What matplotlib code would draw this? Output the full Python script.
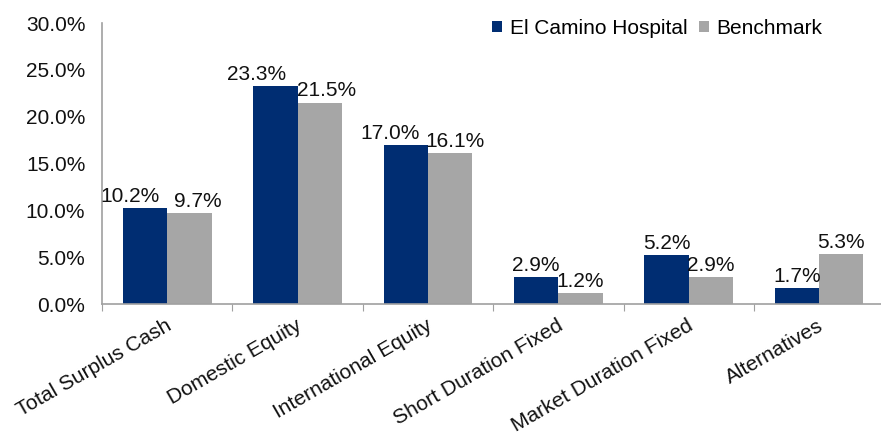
import numpy as np
import matplotlib.pyplot as plt
from matplotlib.ticker import FuncFormatter
from matplotlib.transforms import offset_copy

categories = ["Total Surplus Cash", "Domestic Equity", "International Equity",
              "Short Duration Fixed", "Market Duration Fixed", "Alternatives"]
el_camino = [10.2, 23.3, 17.0, 2.9, 5.2, 1.7]
benchmark = [9.7, 21.5, 16.1, 1.2, 2.9, 5.3]

NAVY = "#002D72"
GRAY = "#A6A6A6"
AXIS = "#A0A0A0"
FS = 15

plt.rcParams['font.family'] = ['Liberation Sans', 'DejaVu Sans']

fig = plt.figure(figsize=(8.81, 4.34), dpi=100)
ax = fig.add_axes([0.1158, 0.2995, 0.888, 0.6475])

x = np.arange(len(categories))
w = 0.34
b1 = ax.bar(x - w / 2, el_camino, w, color=NAVY, label="El Camino Hospital")
b2 = ax.bar(x + w / 2, benchmark, w, color=GRAY, label="Benchmark")

# horizontal nudges (px) where the two labels would collide
nudge_navy = [-15, -19, -16, 0, 0, 0]
nudge_gray = [8, 7, 5, 0, 0, 0]
for bars, vals, nudges in ((b1, el_camino, nudge_navy), (b2, benchmark, nudge_gray)):
    for r, v, dx in zip(bars, vals, nudges):
        ax.annotate(f"{v:.1f}%", (r.get_x() + r.get_width() / 2, v),
                    xytext=(dx * 0.72, 4.5), textcoords="offset points",
                    ha="center", va="baseline", fontsize=FS, color="#111111")

ax.set_xlim(-0.5, len(categories) - 0.5)
ax.set_ylim(0, 30)
ax.set_yticks(np.arange(0, 30.1, 5))
ax.yaxis.set_major_formatter(FuncFormatter(lambda v, _: f"{v:.1f}%"))
ax.tick_params(axis="y", length=0, labelsize=FS, pad=12, labelcolor="#111111")

# category boundary ticks, labels drawn separately
ax.set_xticks(np.arange(-0.5, len(categories), 1.0))
ax.set_xticklabels([])
ax.tick_params(axis="x", length=5, color=AXIS, direction="out")
lab_tr = offset_copy(ax.get_xaxis_transform(), fig=fig, x=-2, y=-12, units="dots")
for i, c in enumerate(categories):
    ax.text(i, 0, c, rotation=30, ha="right", va="top", rotation_mode="anchor",
            fontsize=FS, color="#111111", transform=lab_tr, clip_on=False)

for s in ("top", "right"):
    ax.spines[s].set_visible(False)
for s in ("left", "bottom"):
    ax.spines[s].set_color(AXIS)
    ax.spines[s].set_linewidth(1.2)

ax.legend(loc="center", bbox_to_anchor=(0.746, 0.935), bbox_transform=fig.transFigure,
          ncol=2, frameon=False, fontsize=FS, handlelength=0.48, handleheight=0.48,
          handletextpad=0.35, columnspacing=0.55)

fig.savefig("out.png", dpi=100)
